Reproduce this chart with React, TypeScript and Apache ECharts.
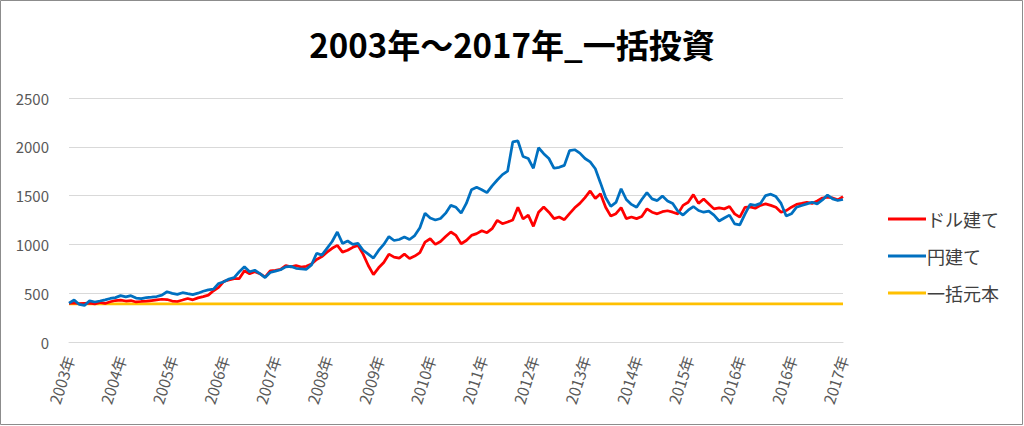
import React, { useEffect, useRef } from "react";
import * as echarts from "echarts";

const titleText = "2003年～2017年_一括投資";
const tickLabels = [
  "2003年", "2004年", "2005年", "2006年", "2007年", "2008年", "2009年", "2010年",
  "2011年", "2012年", "2013年", "2014年", "2015年", "2016年", "2016年", "2017年",
];
const pointsPerTick = 10;
const seriesNames = ["ドル建て", "円建て", "一括元本"];
const principal = 390;

const dollarValues = [
  395, 400, 392, 395, 398, 390, 405, 395, 412, 425,
  430, 420, 425, 410, 415, 418, 425, 432, 438, 435,
  420, 415, 430, 446, 432, 452, 465, 480, 525, 560,
  622, 635, 650, 650, 730, 700, 720, 700, 664, 730,
  735, 745, 784, 770, 784, 767, 775, 800, 845, 875,
  920, 960, 990, 921, 940, 970, 990, 900, 784, 690,
  760, 815, 900, 870, 860, 900, 855, 880, 915, 1024,
  1058, 1000, 1030, 1080, 1127, 1092, 1007, 1040, 1092, 1110,
  1140, 1120, 1161, 1247, 1212, 1229, 1250, 1380, 1260, 1300,
  1185, 1330, 1384, 1330, 1264, 1281, 1253, 1315, 1375, 1420,
  1480, 1548, 1470, 1520, 1380, 1290, 1315, 1377, 1264, 1281,
  1264, 1286, 1364, 1330, 1313, 1335, 1345, 1330, 1313, 1400,
  1432, 1510, 1420, 1466, 1415, 1364, 1375, 1364, 1388, 1313,
  1279, 1380, 1385, 1370, 1400, 1415, 1400, 1381, 1330, 1347,
  1381, 1410, 1420, 1432, 1420, 1445, 1475, 1483, 1476, 1456,
  1490,
];

const yenValues = [
  398, 430, 385, 375, 422, 410, 420, 432, 446, 455,
  475, 462, 475, 450, 445, 455, 460, 466, 480, 515,
  498, 488, 505, 495, 486, 500, 520, 534, 541, 600,
  618, 645, 660, 720, 770, 720, 735, 700, 660, 712,
  726, 740, 770, 775, 755, 748, 745, 790, 910, 890,
  960, 1030, 1127, 1010, 1035, 1000, 1010, 940, 900, 860,
  938, 1000, 1080, 1040, 1050, 1075, 1050, 1090, 1170, 1320,
  1270, 1250, 1265, 1320, 1400, 1380, 1320, 1420, 1560, 1585,
  1560, 1530, 1600, 1660, 1715, 1750, 2050, 2060, 1900, 1880,
  1780, 1990, 1930, 1880, 1780, 1790, 1810, 1960, 1970, 1935,
  1880, 1845, 1775, 1630, 1480, 1390, 1430, 1570, 1460, 1410,
  1380, 1460, 1530, 1466, 1449, 1495, 1445, 1420, 1340, 1300,
  1350, 1388, 1347, 1330, 1340, 1300, 1240, 1270, 1300, 1210,
  1200, 1310, 1410, 1400, 1420, 1500, 1515, 1490, 1420, 1290,
  1313, 1381, 1398, 1415, 1432, 1415, 1455, 1505, 1466, 1450,
  1460,
];

const colors = ["#FF0000", "#0070C0", "#FFC000"];
const FONT = "'Noto Sans CJK JP', 'Noto Sans', sans-serif";

export default function App() {
  const ref = useRef<HTMLDivElement>(null);
  useEffect(() => {
    if (!ref.current) return;
    const chart = echarts.init(ref.current, undefined, { renderer: "svg" });
    const xCats = dollarValues.map((_, i) => String(i));
    const principalValues = dollarValues.map(() => principal);
    chart.setOption({
      animation: false,
      backgroundColor: "#ffffff",
      color: colors,
      textStyle: { fontFamily: FONT },
      title: {
        text: titleText,
        left: "center",
        top: 22,
        textStyle: { fontSize: 33, fontWeight: "bold", color: "#000000", fontFamily: FONT },
      },
      graphic: [
        {
          type: "rect",
          shape: { x: 0.5, y: 0.5, width: 1022, height: 424 },
          style: { fill: "none", stroke: "#8c8c8c", lineWidth: 1 },
          silent: true,
          z: 100,
        },
      ],
      legend: {
        orient: "vertical",
        left: 883,
        top: 205,
        itemGap: 19,
        itemWidth: 38,
        itemHeight: 3,
        icon: "rect",
        textStyle: { fontSize: 18, color: "#404040", fontFamily: FONT, padding: [0, 0, 0, -4] },
        data: seriesNames,
      },
      grid: { left: 69, right: 181, top: 98, bottom: 84, containLabel: false },
      xAxis: {
        type: "category",
        data: xCats,
        boundaryGap: false,
        axisLine: { show: true, lineStyle: { color: "#d9d9d9", width: 1 } },
        axisTick: { show: false },
        axisLabel: {
          interval: pointsPerTick - 1,
          rotate: 72,
          margin: 14,
          fontSize: 15.5,
          color: "#595959",
          fontFamily: FONT,
          formatter: (_v: string, idx: number) => tickLabels[Math.round(idx / pointsPerTick)] ?? "",
        },
        splitLine: { show: false },
      },
      yAxis: {
        type: "value",
        min: 0,
        max: 2500,
        interval: 500,
        axisLine: { show: false },
        axisTick: { show: false },
        axisLabel: {
          fontSize: 15,
          color: "#595959",
          margin: 20,
          fontFamily: FONT,
          formatter: (v: number) => String(v),
        },
        splitLine: { lineStyle: { color: "#d9d9d9", width: 1 } },
      },
      series: [
        {
          name: seriesNames[0],
          type: "line",
          data: dollarValues,
          symbol: "none",
          lineStyle: { width: 2.75, color: colors[0] },
          z: 2,
        },
        {
          name: seriesNames[1],
          type: "line",
          data: yenValues,
          symbol: "none",
          lineStyle: { width: 2.75, color: colors[1] },
          z: 3,
        },
        {
          name: seriesNames[2],
          type: "line",
          data: principalValues,
          symbol: "none",
          lineStyle: { width: 2.75, color: colors[2] },
          z: 1,
        },
      ],
    });
    return () => chart.dispose();
  }, []);
  return (
    <div
      ref={ref}
      style={{ position: "fixed", left: 0, top: 0, width: 1024, height: 426 }}
    />
  );
}
